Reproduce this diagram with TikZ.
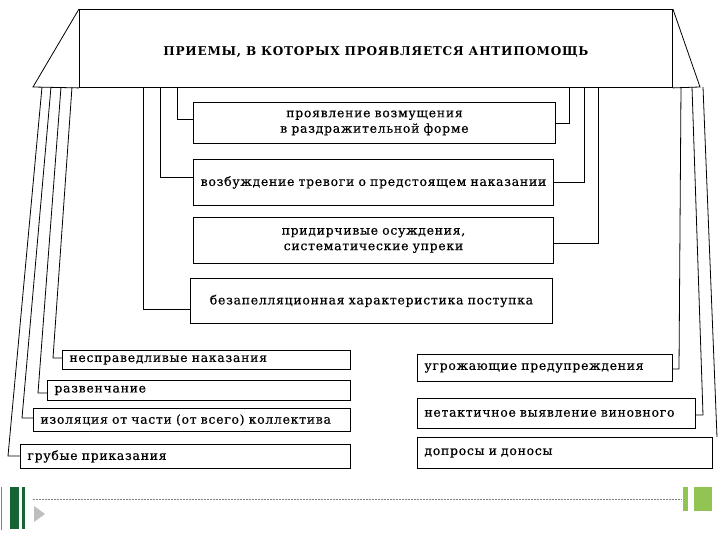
\documentclass[tikz,border=0pt]{standalone}
\usepackage{fontspec}
\setmainfont{DejaVu Serif}
\definecolor{dkgreen}{RGB}{22,100,52}
\definecolor{ltgreen}{RGB}{146,196,84}
\definecolor{trigray}{RGB}{190,190,190}
\begin{document}
\begin{tikzpicture}[x=1pt,y=-1pt,
  box/.style={draw=black, line width=0.9pt, fill=white, anchor=north west, inner ysep=0pt, font=\fontsize{12.4}{15.5}\selectfont\addfontfeature{LetterSpace=6,FakeBold=0.5}},
  lbox/.style={box, align=left, inner xsep=7pt},
  cbox/.style={box, align=center, inner xsep=0pt},
  conn/.style={draw=black, line width=0.8pt}]
\useasboundingbox (0,0) rectangle (720,540);
% header
\node[draw=black, line width=0.9pt, anchor=north west, minimum width=593pt, minimum height=78pt, inner sep=0pt,
  text height=16pt, text depth=2pt,
  font=\fontsize{12.1}{15}\selectfont\bfseries\addfontfeature{LetterSpace=6}] (hdr) at (79,9) {ПРИЕМЫ, В КОТОРЫХ ПРОЯВЛЯЕТСЯ АНТИПОМОЩЬ};
\coordinate (lw) at (33,87);
\coordinate (rw) at (700,87);
\draw[conn] (hdr.north west) -- (lw) -- (hdr.south west);
\draw[conn] (hdr.north east) -- (rw) -- (hdr.south east);
% central boxes
\node[cbox, text width=362pt, minimum height=41pt] (b1) at (193,102) {проявление возмущения\\в раздражительной форме};
\node[cbox, text width=360pt, minimum height=46pt] (b2) at (193,159) {возбуждение тревоги о предстоящем наказании};
\node[cbox, text width=360pt, minimum height=46pt] (b3) at (193,217) {придирчивые осуждения,\\систематические упреки};
\node[cbox, text width=362pt, minimum height=45pt] (b4) at (190,278) {безапелляционная характеристика поступка};
% left boxes
\node[lbox, text width=274pt, minimum height=19pt] (g1) at (62,350) {несправедливые наказания};
\node[lbox, text width=289pt, minimum height=20pt] (g2) at (47,380) {развенчание};
\node[lbox, text width=303pt, minimum height=23pt] (g3) at (33,408) {изоляция от части (от всего) коллектива};
\node[lbox, text width=316pt, minimum height=24pt] (g4) at (20,444) {грубые приказания};
% right boxes
\node[lbox, text width=241pt, minimum height=27pt] (r1) at (417,354) {угрожающие предупреждения};
\node[lbox, text width=264pt, minimum height=30pt] (r2) at (417,398) {нетактичное выявление виновного};
\node[lbox, text width=281pt, minimum height=31pt] (r3) at (417,437) {допросы и доносы};
% central connectors
\coordinate (c1) at (177,87); \coordinate (c2) at (160,87); \coordinate (c3) at (143,87);
\coordinate (d1) at (569,87); \coordinate (d2) at (584,87); \coordinate (d3) at (598,87);
\draw[conn] (c1) |- ([yshift=4pt]b1.west);
\draw[conn] (c2) |- ([yshift=5pt]b2.west);
\draw[conn] (c3) |- ([yshift=-8pt]b4.west);
\draw[conn] (d1) |- (b1.east);
\draw[conn] (d2) |- (b2.east);
\draw[conn] (d3) |- ([yshift=-3pt]b3.east);
% left pillars
\coordinate (p1) at (42,87); \coordinate (p2) at (51,87); \coordinate (p3) at (61,87); \coordinate (p4) at (72,87);
\coordinate (k1) at (8,456); \coordinate (k2) at (22,418); \coordinate (k3) at (38,393); \coordinate (k4) at (53,358);
\draw[conn] (p1) -- (k1) -- (k1 -| g4.west);
\draw[conn] (p2) -- (k2) -- (k2 -| g3.west);
\draw[conn] (p3) -- (k3) -- (k3 -| g2.west);
\draw[conn] (p4) -- (k4) -- (k4 -| g1.west);
% right pillars
\coordinate (q1) at (681,87); \coordinate (q2) at (692,87); \coordinate (q3) at (703,87);
\coordinate (m1) at (679,369); \coordinate (m2) at (703,415); \coordinate (m3) at (717,437);
\draw[conn] (q1) -- (m1) -- (m1 -| r1.east);
\draw[conn] (q2) -- (m2) -- (m2 -| r2.east);
\draw[conn] (q3) -- (m3);
% footer
\draw[gray, line width=0.6pt] (1,487) -- (1,530);
\fill[dkgreen] (10,487) rectangle (19,529);
\fill[dkgreen] (22,487) rectangle (25,529);
\fill[trigray] (34,506) -- (45,514) -- (34,522) -- cycle;
\draw[gray, line width=0.5pt, dash pattern=on 2pt off 1pt] (33,499) -- (682,499);
\fill[ltgreen] (683,487) rectangle (688,511);
\fill[ltgreen] (694,487) rectangle (712,511);
\end{tikzpicture}
\end{document}
